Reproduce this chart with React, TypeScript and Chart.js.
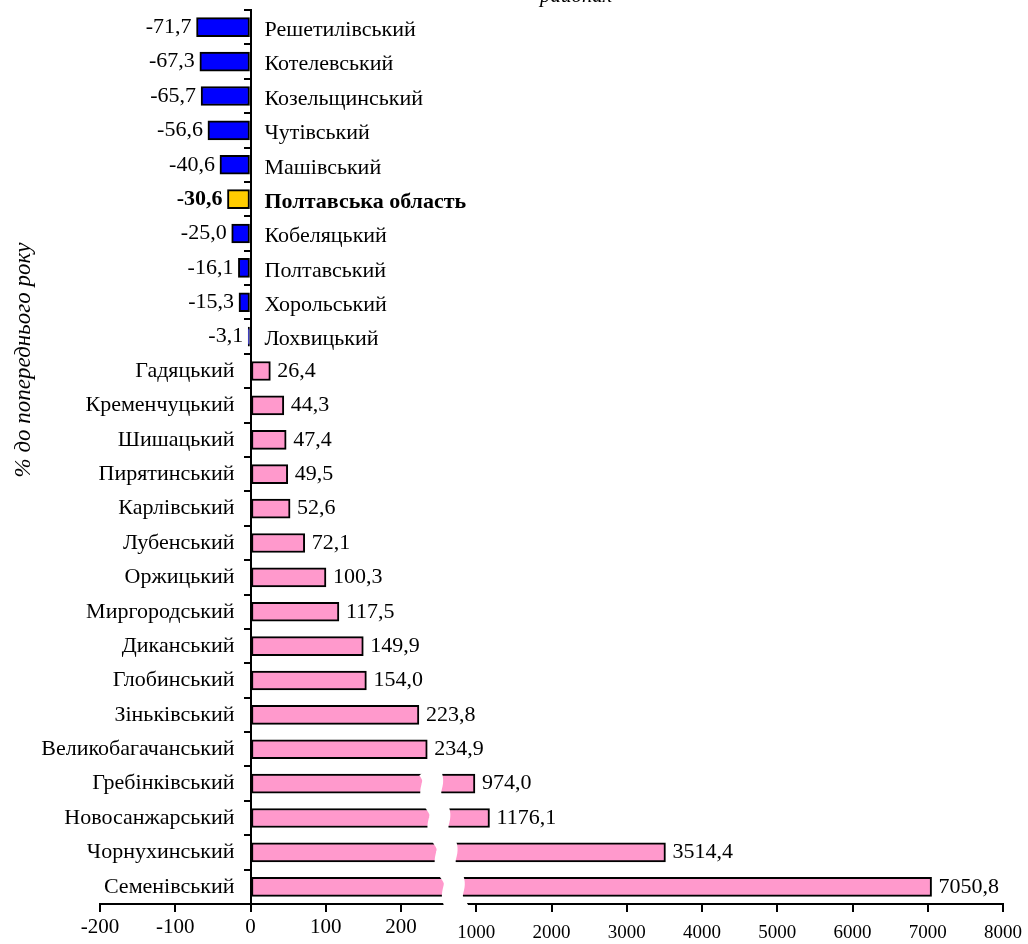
import React, { useEffect, useRef } from "react";
import { Chart, registerables } from "chart.js";

Chart.register(...registerables);

const CATEGORIES = [
  "Решетилівський",
  "Котелевський",
  "Козельщинський",
  "Чутівський",
  "Машівський",
  "Полтавська область",
  "Кобеляцький",
  "Полтавський",
  "Хорольський",
  "Лохвицький",
  "Гадяцький",
  "Кременчуцький",
  "Шишацький",
  "Пирятинський",
  "Карлівський",
  "Лубенський",
  "Оржицький",
  "Миргородський",
  "Диканський",
  "Глобинський",
  "Зіньківський",
  "Великобагачанський",
  "Гребінківський",
  "Новосанжарський",
  "Чорнухинський",
  "Семенівський",
];

const VALUES = [
  -71.7, -67.3, -65.7, -56.6, -40.6, -30.6, -25.0, -16.1, -15.3, -3.1, 26.4,
  44.3, 47.4, 49.5, 52.6, 72.1, 100.3, 117.5, 149.9, 154.0, 223.8, 234.9,
  974.0, 1176.1, 3514.4, 7050.8,
];

const HIGHLIGHT = "Полтавська область";
const X_TICKS = [-200, -100, 0, 100, 200, 1000, 2000, 3000, 4000, 5000, 6000, 7000, 8000];
const AXIS_TITLE = "% до попереднього року";
const TOP_TITLE = "районах";

const FAMILY = "'Liberation Serif', 'Times New Roman', serif";
const COLOR_NEG = "#0000FF";
const COLOR_POS = "#FF99CC";
const COLOR_HL = "#FFCC00";

// Broken axis: linear up to BREAK_LOW, compressed (1:10) from BREAK_HIGH on
const BREAK_LOW = 250;
const BREAK_HIGH = 1000;
function toAxis(v: number): number {
  if (v <= BREAK_LOW) return v;
  if (v >= BREAK_HIGH) return 200 + v / 10;
  return BREAK_LOW + ((v - BREAK_LOW) * (300 - BREAK_LOW)) / (BREAK_HIGH - BREAK_LOW);
}

function fmt(v: number): string {
  return v.toFixed(1).replace(".", ",");
}

const labelPlugin = {
  id: "customLabels",
  afterDatasetsDraw(chart: any) {
    const ctx = chart.ctx;
    const xs = chart.scales.x;
    const area = chart.chartArea;
    const meta = chart.getDatasetMeta(0);
    const zero = xs.getPixelForValue(toAxis(0));
    const rowH = (area.bottom - area.top) / CATEGORIES.length;

    // axis break band
    const firstBroken = VALUES.findIndex((v) => v > BREAK_LOW);
    if (firstBroken >= 0) {
      const yTop = meta.data[firstBroken].y - rowH / 2 + 3;
      const yBot = area.bottom + 9;
      const xTop = xs.getPixelForValue(236);
      const xBot = xs.getPixelForValue(276);
      ctx.save();
      ctx.strokeStyle = "#FFFFFF";
      ctx.lineWidth = 21;
      ctx.lineCap = "butt";
      ctx.lineJoin = "round";
      ctx.beginPath();
      const n = 80;
      for (let k = 0; k <= n; k++) {
        const t = k / n;
        const y = yTop + (yBot - yTop) * t;
        const x =
          xTop + (xBot - xTop) * t + 2.5 * Math.sin(((y - yTop) / rowH) * Math.PI * 2);
        if (k === 0) ctx.moveTo(x, y);
        else ctx.lineTo(x, y);
      }
      ctx.stroke();
      ctx.restore();
    }

    ctx.save();
    ctx.fillStyle = "#000";
    ctx.textBaseline = "middle";
    meta.data.forEach((bar: any, i: number) => {
      const v = VALUES[i];
      const name = CATEGORIES[i];
      const bold = name === HIGHLIGHT;
      ctx.font = `${bold ? "bold " : ""}22px ${FAMILY}`;
      const y = bar.y;
      const label = fmt(v);
      if (v < 0) {
        ctx.textAlign = "right";
        ctx.fillText(label, bar.x - 5, y);
        ctx.textAlign = "left";
        ctx.fillText(name, zero + 14, y + 3);
      } else {
        ctx.textAlign = "left";
        ctx.fillText(label, bar.x + 7, y);
        ctx.textAlign = "right";
        ctx.fillText(name, zero - 16, y);
      }
    });
    ctx.restore();
  },
  afterDraw(chart: any) {
    const ctx = chart.ctx;
    ctx.save();
    ctx.fillStyle = "#000";
    ctx.font = `italic 23px ${FAMILY}`;
    ctx.textAlign = "center";
    ctx.textBaseline = "middle";
    ctx.translate(24, 360);
    ctx.rotate(-Math.PI / 2);
    ctx.fillText(AXIS_TITLE, 0, 0);
    ctx.restore();

    ctx.save();
    ctx.fillStyle = "#000";
    ctx.font = `italic 21px ${FAMILY}`;
    ctx.textAlign = "center";
    ctx.textBaseline = "alphabetic";
    ctx.fillText(TOP_TITLE, 576, 2);
    ctx.restore();
  },
};

export default function App() {
  const canvasRef = useRef<HTMLCanvasElement | null>(null);

  useEffect(() => {
    document.body.style.margin = "0";
    const canvas = canvasRef.current;
    if (!canvas) return;

    const colors = CATEGORIES.map((name, i) =>
      name === HIGHLIGHT ? COLOR_HL : VALUES[i] < 0 ? COLOR_NEG : COLOR_POS
    );

    const chart = new Chart(canvas, {
      type: "bar",
      data: {
        labels: CATEGORIES,
        datasets: [
          {
            data: VALUES.map(toAxis),
            backgroundColor: colors,
            borderColor: "#000000",
            borderWidth: 2,
            borderSkipped: false,
            barThickness: 19,
          },
        ],
      },
      options: {
        indexAxis: "y",
        responsive: false,
        animation: false,
        layout: { padding: { left: 100, right: 25, top: 10, bottom: 0 } },
        plugins: {
          legend: { display: false },
          tooltip: { enabled: false },
          title: { display: false },
        },
        scales: {
          x: {
            type: "linear",
            min: toAxis(-200),
            max: toAxis(8000),
            afterBuildTicks: (scale: any) => {
              scale.ticks = X_TICKS.map((v) => ({ value: toAxis(v) }));
            },
            afterFit: (scale: any) => {
              scale.height = 40;
            },
            ticks: {
              autoSkip: false,
              maxRotation: 0,
              minRotation: 0,
              color: "#000",
              padding: 3,
              callback: (_val: any, i: number) => String(X_TICKS[i]),
              font: (ctx: any) => {
                const v = X_TICKS[ctx.index];
                return v !== undefined && v >= BREAK_HIGH
                  ? { family: FAMILY, size: 19, lineHeight: 1.9 }
                  : { family: FAMILY, size: 21, lineHeight: 1.2 };
              },
            },
            grid: {
              drawOnChartArea: false,
              drawTicks: true,
              tickLength: 8,
              color: "#000",
              lineWidth: 2,
            },
            border: { display: true, color: "#000", width: 2 },
          },
          y: {
            type: "category",
            position: { x: 0 },
            offset: true,
            ticks: { display: false },
            grid: {
              offset: true,
              drawOnChartArea: false,
              drawTicks: true,
              tickLength: 6,
              color: "#000",
              lineWidth: 2,
            },
            border: { display: true, color: "#000", width: 2 },
          },
        },
      } as any,
      plugins: [labelPlugin],
    });

    return () => {
      chart.destroy();
    };
  }, []);

  return (
    <div style={{ width: 1028, height: 944, background: "#fff" }}>
      <canvas ref={canvasRef} width={1028} height={944} style={{ display: "block" }} />
    </div>
  );
}
